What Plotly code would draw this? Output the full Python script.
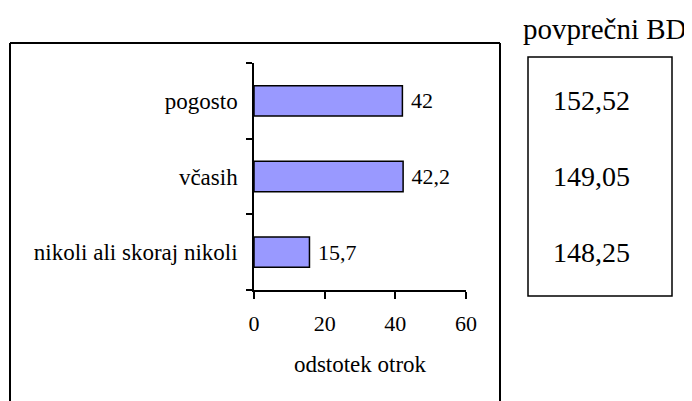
import plotly.graph_objects as go

categories = ["nikoli ali skoraj nikoli", "včasih", "pogosto"]
percent_values = [15.7, 42.2, 42]
bd_title = "povprečni BD"
bd_values = ["148,25", "149,05", "152,52"]
x_ticks = [0, 20, 40, 60]
x_title = "odstotek otrok"

FONT = "Liberation Serif, Times New Roman, serif"
W, H = 692, 401
OFF = 8  # page body margin offset
L, R, T, B = 254 - OFF, 466 - OFF, 63 - OFF, 290 - OFF


def px(x):
    return (x - OFF - L) / (R - L)


def py(y):
    return (B - (y - OFF)) / (B - T)


bar_text = [(" %g" % v).replace(".", ",") for v in percent_values]

fig = go.Figure()
fig.add_trace(go.Bar(
    y=categories, x=percent_values, orientation="h",
    width=0.4,
    marker=dict(color="#9999FF", line=dict(color="black", width=1.5)),
    text=bar_text, textposition="outside", constraintext="none",
    textfont=dict(family=FONT, size=22, color="black"),
    cliponaxis=False, hoverinfo="skip",
))

fig.update_layout(
    width=W, height=H,
    margin=dict(l=L, r=W - R, t=T, b=H - B, pad=0),
    paper_bgcolor="white", plot_bgcolor="white",
    showlegend=False,
    font=dict(family=FONT, color="black"),
    xaxis=dict(
        range=[0, 60], tickvals=x_ticks, showgrid=False, zeroline=False,
        showline=True, linecolor="black", linewidth=1.5,
        ticks="outside", ticklen=7, tickwidth=1.5, tickcolor="black",
        tickfont=dict(family=FONT, size=22, color="black"),
        ticklabelstandoff=6,
        title=dict(text=x_title, font=dict(family=FONT, size=23, color="black"), standoff=21),
    ),
    yaxis=dict(
        categoryorder="array", categoryarray=categories, range=[-0.5, 2.5],
        showgrid=False, zeroline=False,
        showline=True, linecolor="black", linewidth=1.5,
        ticks="outside", ticklen=6, tickwidth=1.5, tickcolor="black",
        tickson="boundaries",
        tickfont=dict(family=FONT, size=23, color="black"),
        ticklabelstandoff=10,
    ),
)

# outer frame (open at bottom)
frame = dict(type="line", xref="paper", yref="paper", line=dict(color="black", width=2))
fig.add_shape(x0=px(10), x1=px(10), y0=py(43), y1=py(420), **frame)
fig.add_shape(x0=px(10), x1=px(500), y0=py(43), y1=py(43), **frame)
fig.add_shape(x0=px(500), x1=px(500), y0=py(43), y1=py(420), **frame)

# right box
fig.add_shape(type="rect", xref="paper", yref="paper",
              x0=px(528), x1=px(672), y0=py(296), y1=py(57),
              line=dict(color="black", width=1.5))

fig.add_annotation(text=bd_title, xref="paper", yref="paper",
                   x=px(605), y=py(29), xanchor="center", yanchor="middle",
                   showarrow=False, font=dict(family=FONT, size=29, color="black"))

for cat, val in zip(categories, bd_values):
    fig.add_annotation(text=val, xref="paper", yref="y",
                       x=px(551), y=cat, xanchor="left", yanchor="middle",
                       showarrow=False, font=dict(family=FONT, size=28, color="black"))

fig.write_html("out.html")
